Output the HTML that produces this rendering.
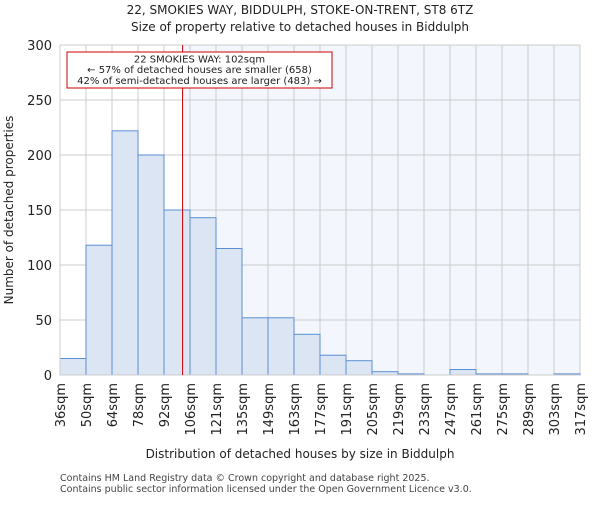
<!DOCTYPE html>
<html><head><meta charset="utf-8"><style>body{margin:0;background:#fff}svg{font-family:"DejaVu Sans","Liberation Sans",sans-serif}</style></head>
<body>
<svg id="chart" width="600" height="500" xmlns="http://www.w3.org/2000/svg">
<text x="300" y="14" text-anchor="middle" font-size="12" fill="#222">22, SMOKIES WAY, BIDDULPH, STOKE-ON-TRENT, ST8 6TZ</text>
<text x="300" y="31" text-anchor="middle" font-size="12" fill="#222">Size of property relative to detached houses in Biddulph</text>
<g id="plot"></g>
<text x="300" y="458" text-anchor="middle" font-size="12" fill="#222">Distribution of detached houses by size in Biddulph</text>
<text transform="translate(13,210) rotate(-90)" text-anchor="middle" font-size="12" fill="#222">Number of detached properties</text>
<text x="60" y="481" font-size="9.5" fill="#444">Contains HM Land Registry data © Crown copyright and database right 2025.</text>
<text x="60" y="492" font-size="9.5" fill="#444">Contains public sector information licensed under the Open Government Licence v3.0.</text>
</svg>
<script>
const categories=["36sqm","50sqm","64sqm","78sqm","92sqm","106sqm","121sqm","135sqm","149sqm","163sqm","177sqm","191sqm","205sqm","219sqm","233sqm","247sqm","261sqm","275sqm","289sqm","303sqm","317sqm"];
const values=[15,118,222,200,150,143,115,52,52,37,18,13,3,1,0,5,1,1,0,1];
const yTicks=[0,50,100,150,200,250,300];
const markerBin=4+10/14;
const NS="http://www.w3.org/2000/svg";
const g=document.getElementById('plot');
const x0=60,x1=580,yb=375,yt=45,bw=(x1-x0)/values.length;
const X=i=>x0+i*bw, Y=v=>yb-(v/300)*(yb-yt);
function el(t,a,p){const e=document.createElementNS(NS,t);for(const k in a)e.setAttribute(k,a[k]);(p||g).appendChild(e);return e;}
const mx=X(markerBin);
let s=el('rect',{x:mx,y:yt,width:x1-mx,height:yb-yt,fill:'#f3f6fd'});


for(let i=0;i<=values.length;i++){const l=el('line',{x1:X(i),x2:X(i),y1:yt,y2:yb,stroke:'#ccc','stroke-width':1});

}
yTicks.forEach(t=>{const l=el('line',{x1:x0,x2:x1,y1:Y(t),y2:Y(t),stroke:'#ccc','stroke-width':1});


const tx=el('text',{x:x0-8,y:Y(t)+5,'text-anchor':'end','font-size':13,fill:'#222'});tx.textContent=t;

});
values.forEach((v,i)=>{const r=el('rect',{x:X(i),y:Y(v),width:bw,height:yb-Y(v),fill:'#dbe5f4',stroke:'#5b8fd5','stroke-width':1});

});
categories.forEach((c,i)=>{const t=el('text',{transform:`translate(${X(i)+5},${yb+8}) rotate(-90)`,'text-anchor':'end','font-size':13,fill:'#222'});t.textContent=c;

});
const ax=el('path',{d:`M${x0},${yt}V${yb}H${x1}`,fill:'none',stroke:'#ccc'});


const ml=el('line',{x1:mx,x2:mx,y1:yt,y2:yb,stroke:'#cc0000','stroke-width':1});


const b=el('rect',{x:67,y:52,width:265,height:36,fill:'#fff',stroke:'#cc0000','stroke-width':1});


["22 SMOKIES WAY: 102sqm","← 57% of detached houses are smaller (658)","42% of semi-detached houses are larger (483) →"].forEach((s,i)=>{const t=el('text',{x:199.5,y:62.5+i*10.7,'text-anchor':'middle','font-size':10,fill:'#222'});t.textContent=s;

});
</script>
</body></html>
